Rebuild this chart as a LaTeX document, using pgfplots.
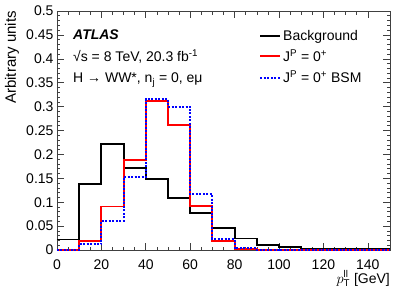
\documentclass[border=0pt]{standalone}
\usepackage{fontspec}
\setmainfont{Liberation Sans}
\usepackage{pgfplots}
\pgfplotsset{compat=1.18}
\definecolor{rootred}{RGB}{255,0,0}
\definecolor{rootblue}{RGB}{0,0,255}
\newcommand{\fs}{\fontsize{14bp}{16bp}\selectfont}
\begin{document}
\begin{tikzpicture}
\useasboundingbox (-57bp,-42bp) rectangle (350bp,250bp);
\begin{axis}[
  scale only axis,
  width=333bp, height=239bp,
  xmin=0, xmax=150, ymin=0, ymax=0.5,
  xtick={0,20,...,140},
  ytick={0,0.05,0.1,0.15,0.2,0.25,0.3,0.35,0.4,0.45,0.5},
  yticklabels={0,0.05,0.1,0.15,0.2,0.25,0.3,0.35,0.4,0.45,0.5},
  minor x tick num=3,
  minor y tick num=4,
  tick align=inside,
  xtick pos=both, ytick pos=both,
  major tick length=7bp, minor tick length=3.5bp,
  axis line style={black!75, line width=0.7bp},
  every tick/.style={black!75, line width=0.6bp},
  /pgf/number format/assume math mode=true,
  ticklabel style={font=\fs},
  xticklabel style={inner sep=1bp, yshift=-8.5bp},
  xlabel={$p_{\mathrm{T}}^{\mathrm{ll}}$ [GeV]},
  xlabel style={font=\fs, at={(axis description cs:1,0)}, anchor=north east, yshift=-20.5bp, inner sep=0pt},
  ylabel={Arbitrary units},
  ylabel style={font=\fontsize{15bp}{17bp}\selectfont, at={(axis description cs:-0.135,1)}, anchor=east, inner sep=0pt},
  legend cell align=left,
  legend style={draw=none, fill=none, font=\fs, at={(axis description cs:0.607,0.93)}, anchor=north west, row sep=4bp, inner sep=0pt},
  legend image code/.code={\draw[#1] (0bp,0bp) -- (20bp,0bp);},
]
\addplot[const plot, black, line width=1.9bp] coordinates {
 (0,0.022) (10,0.138) (20,0.222) (30,0.172) (40,0.149) (50,0.109) (60,0.077)
 (70,0.046) (80,0.024) (90,0.0105) (100,0.0056) (110,0.003) (120,0.002)
 (130,0.0015) (140,0.003) (150,0.003)};
\addlegendentry{Background}
\addplot[const plot, rootred, line width=1.9bp] coordinates {
 (0,0.0005) (10,0.0195) (20,0.091) (30,0.188) (40,0.312) (50,0.2615) (60,0.092)
 (70,0.019) (80,0.003) (90,0.0007) (100,0.0003) (110,0.0002) (120,0.0001)
 (130,0.0001) (140,0.0001) (150,0.0001)};
\addlegendentry{J\textsuperscript{P} = 0\textsuperscript{+}}
\addplot[const plot, rootblue, line width=1.9bp, dash pattern=on 2bp off 1.5bp] coordinates {
 (0,0.0005) (10,0.012) (20,0.061) (30,0.153) (40,0.316) (50,0.300) (60,0.1165)
 (70,0.023) (80,0.0035) (90,0.0008) (100,0.0003) (110,0.0002) (120,0.0001)
 (130,0.0001) (140,0.0001) (150,0.0001)};
\addlegendentry{J\textsuperscript{P} = 0\textsuperscript{+} BSM}
\node[anchor=west, font=\fs\bfseries\itshape, inner sep=0pt] at (axis description cs:0.048,0.9) {ATLAS};
\node[anchor=west, font=\fs, inner sep=0pt] at (axis description cs:0.048,0.808) {√s = 8 TeV, 20.3 fb\textsuperscript{-1}};
\node[anchor=west, font=\fs, inner sep=0pt] at (axis description cs:0.048,0.711) {H → WW*, n\textsubscript{j} = 0, eμ};
\end{axis}
\end{tikzpicture}
\end{document}
